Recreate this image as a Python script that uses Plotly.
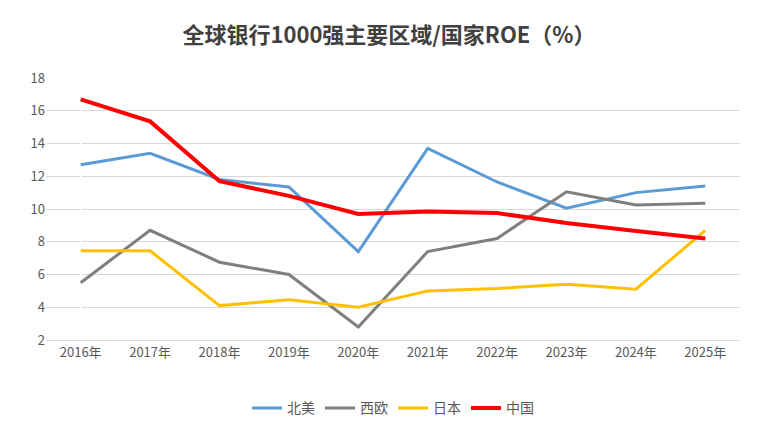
import plotly.graph_objects as go

years = ["2016年", "2017年", "2018年", "2019年", "2020年", "2021年", "2022年", "2023年", "2024年", "2025年"]
north_america = [12.7, 13.4, 11.8, 11.35, 7.4, 13.7, 11.65, 10.05, 11.0, 11.4]
west_europe = [5.5, 8.7, 6.75, 6.0, 2.8, 7.4, 8.2, 11.05, 10.25, 10.35]
japan = [7.45, 7.45, 4.1, 4.45, 4.0, 5.0, 5.15, 5.4, 5.1, 8.7]
china = [16.7, 15.35, 11.7, 10.8, 9.7, 9.85, 9.75, 9.15, 8.65, 8.2]

series = [("北美", north_america, "#5b9bd5"), ("西欧", west_europe, "#7f7f7f"),
          ("日本", japan, "#ffc000"), ("中国", china, "#ff0000")]

fig = go.Figure()
for name, vals, color in series:
    fig.add_trace(go.Scatter(x=list(range(len(years))), y=vals, name=name, mode="lines",
                             line=dict(color=color, width=4 if name == "中国" else 3)))

fig.update_layout(
    width=762, height=434,
    margin=dict(l=38, r=30, t=70, b=102),
    paper_bgcolor="white", plot_bgcolor="white",
    font=dict(family="Noto Sans CJK SC", color="#595959", size=13),
    title=dict(text="<b>全球银行1000强主要区域/国家ROE（%）</b>", x=0.5, xanchor="center",
               y=0.955, font=dict(size=22, color="#404040")),
    xaxis=dict(tickvals=list(range(len(years))), ticktext=years, range=[-0.5, 9.5],
               showgrid=False, showline=True, linecolor="#d9d9d9", ticks=""),
    yaxis=dict(range=[2, 18], dtick=2, showgrid=True, gridcolor="#d9d9d9",
               zeroline=False, ticks=""),
    legend=dict(orientation="h", x=0.5, xanchor="center", y=-0.2, yanchor="top",
                font=dict(size=14)),
)

fig.write_html("out.html")
